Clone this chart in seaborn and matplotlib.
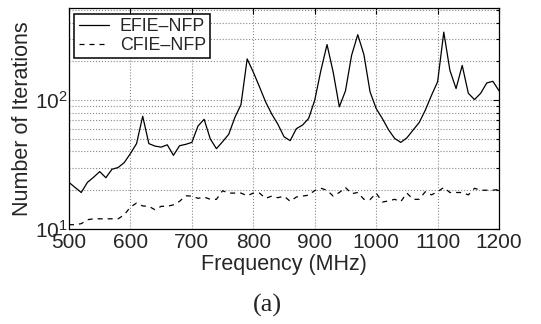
import matplotlib
matplotlib.use("Agg")
import matplotlib.pyplot as plt
import matplotlib.ticker as mticker
import seaborn as sns
import pandas as pd

sns.set_style("white")
plt.rcParams['font.family'] = ['Liberation Sans', 'DejaVu Sans']
plt.rcParams['mathtext.fontset'] = 'custom'
plt.rcParams['mathtext.rm'] = 'Liberation Sans'
plt.rcParams['mathtext.it'] = 'Liberation Sans:italic'

# frequency samples (MHz)
freq = list(range(500, 1201, 10))

efie_nfp = [23, 21, 19.2, 23, 25.2, 27.9, 25, 29.1, 30, 32.8,
            38.5, 46, 75, 46, 44, 43.2, 45, 37.3, 44.3, 45.4,
            47, 63, 71, 50, 42, 47.6, 54.3, 73.4, 92.5, 209,
            165, 127, 97, 78, 65, 52, 48.5, 60, 64, 72,
            100, 170, 270, 165, 88.8, 118, 223, 322, 226, 116,
            86, 72, 59, 50.5, 47, 51, 58.6, 67, 83.7, 109,
            139, 337, 170, 123, 186, 113, 101, 113, 136, 140,
            118]

cfie_nfp = [10.8, 10.8, 11, 11.8, 12, 12, 12, 12, 12, 12.9,
            14.8, 15.9, 15.1, 15, 14.1, 15, 15, 15.4, 16.4, 18.1,
            18, 17.3, 17.7, 17, 17, 19.8, 19, 19, 19, 18.1,
            19, 19, 17.3, 18, 17.5, 18, 16.4, 17.7, 18, 18.3,
            19.9, 20.7, 20, 18, 19.2, 21, 18.8, 19.2, 17, 16.9,
            19, 16.2, 16.5, 17, 16.3, 19, 17, 17, 19.5, 18.4,
            19.5, 21, 19.2, 19.2, 19.2, 18.4, 20.7, 20, 20, 20,
            20.3]

df = pd.DataFrame({"freq": freq, "EFIE\u2013NFP": efie_nfp, "CFIE\u2013NFP": cfie_nfp})

fig = plt.figure(figsize=(5.41, 3.24), dpi=100)
ax = fig.add_axes([0.1275, 0.2932, 0.795, 0.6808])

sns.lineplot(data=df, x="freq", y="EFIE\u2013NFP", ax=ax, color='k', lw=0.9,
             linestyle='-', label="EFIE\u2013NFP")
sns.lineplot(data=df, x="freq", y="CFIE\u2013NFP", ax=ax, color='k', lw=0.9,
             linestyle=(0, (4, 4)), label="CFIE\u2013NFP")

ax.set_yscale('log')
ax.set_xlim(500, 1200)
ax.set_ylim(10, 515)
ax.set_xticks(range(500, 1201, 100))
ax.yaxis.set_minor_formatter(mticker.NullFormatter())

ax.grid(True, which='major', axis='both', color='#888888', linestyle=':', lw=0.8)
ax.grid(True, which='minor', axis='y', color='#888888', linestyle=':', lw=0.8)

ax.tick_params(which='both', direction='in', top=True, right=True,
               labelsize=15, length=4, width=0.8, color='k', pad=1)
ax.tick_params(axis='x', pad=3)
ax.tick_params(which='minor', length=2)
for s in ax.spines.values():
    s.set_color('k')
    s.set_linewidth(0.9)

ax.set_xlabel("Frequency (MHz)", fontsize=15.5, labelpad=1)
ax.set_ylabel("Number of Iterations", fontsize=15.5, labelpad=1)

leg = ax.legend(loc='upper left', fontsize=12.8, frameon=True, fancybox=False,
                handlelength=1.7, borderpad=0.25, labelspacing=0.1,
                borderaxespad=0.3, handletextpad=0.6)
leg.get_frame().set_edgecolor('k')
leg.get_frame().set_linewidth(1.1)
leg.get_frame().set_alpha(1)

fig.text(0.494, 0.056, "(a)", family=['Liberation Serif', 'DejaVu Serif'],
         fontsize=19, ha='center', va='center')

fig.savefig("out.png", dpi=100)
